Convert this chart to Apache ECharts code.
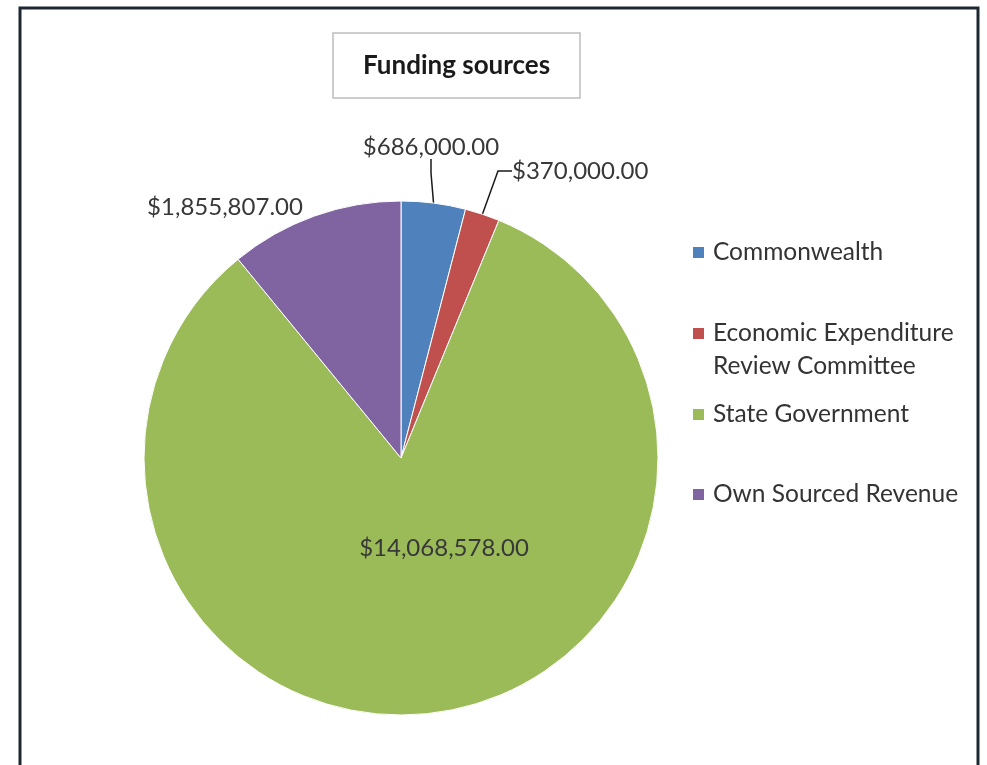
<!DOCTYPE html>
<html>
<head>
<meta charset="utf-8">
<script src="https://cdn.jsdelivr.net/npm/echarts@6/dist/echarts.min.js"></script>
<style>
  html, body { margin: 0; padding: 0; background: #fff; }
  #chart { width: 987px; height: 765px; }
</style>
</head>
<body>
<div id="chart"></div>
<script>
// data
var sources = ['Commonwealth', 'Economic Expenditure Review Committee', 'State Government', 'Own Sourced Revenue'];
var amounts = [686000, 370000, 14068578, 1855807];
var colors = ['#4F81BD', '#C0504D', '#9BBB59', '#8064A2'];

// where each value label sits (by slice)
var labelSpots = [
    { x: 431, y: 147, align: 'center' },
    { x: 512, y: 171, align: 'left' },
    { x: 444, y: 548, align: 'center' },
    { x: 225, y: 207, align: 'center' }
];
var legendTops = [231, 312, 393, 473];

var myChart = echarts.init(document.getElementById('chart'));

function money(v) {
    return '$' + v.toLocaleString('en-US', { minimumFractionDigits: 2, maximumFractionDigits: 2 });
}

var pieData = sources.map(function (name, i) {
    var item = { name: name, value: amounts[i], itemStyle: { color: colors[i] } };
    if (i >= 2) item.labelLine = { show: false };//no leader line for these two
    return item;
});

var legends = sources.map(function (name, i) {
    var lg = {
        data: [name],
        orient: 'vertical',
        left: 686,
        top: legendTops[i],
        icon: 'rect',
        itemWidth: 13,
        itemHeight: 13,
        itemGap: 0,
        selectedMode: false,
        textStyle: { fontFamily: 'Lato', fontSize: 24.5, color: '#333', lineHeight: 33, padding: [0, 0, 0, 3] }
    };
    if (i == 1) {
        // two-line entry: square stays level with the first line
        lg.formatter = function (n) { return n.replace(' Review', '\nReview'); };
        lg.icon = 'path://M0,0h13v13h-13z M0,46h13';
        lg.itemHeight = 46;
    }
    return lg;
});

var option = {
    backgroundColor: '#fff',
    animation: false,
    title: {
        text: 'Funding sources',
        left: 333,
        top: 33,
        padding: [19, 30],
        borderColor: '#bdbdbd',
        borderWidth: 1.5,
        textStyle: { fontFamily: 'Lato', fontWeight: 'bold', fontSize: 26, lineHeight: 27, color: '#1a1a1a' }
    },
    graphic: [{
        type: 'rect',
        shape: { x: 20, y: 8, width: 958, height: 790 },
        style: { fill: 'none', stroke: '#1e2830', lineWidth: 3 },
        silent: true
    }],
    legend: legends,
    series: [{
        type: 'pie',
        center: [401, 458],
        radius: 257,
        startAngle: 90,
        clockwise: true,
        data: pieData,
        itemStyle: { borderColor: '#fff', borderWidth: 1 },
        label: {
            show: true,
            position: 'outside',
            fontFamily: 'Lato',
            fontSize: 24,
            color: '#383838',
            formatter: function (p) { return money(p.value); }
        },
        labelLine: {
            show: true,
            length: 10,
            length2: 14,
            lineStyle: { color: '#1a1a1a', width: 1.5 }
        },
        labelLayout: function (params) {
            var s = labelSpots[params.dataIndex];
            return { x: s.x, y: s.y, align: s.align, verticalAlign: 'middle' };
        }
    }]
};

myChart.setOption(option);
</script>
</body>
</html>
